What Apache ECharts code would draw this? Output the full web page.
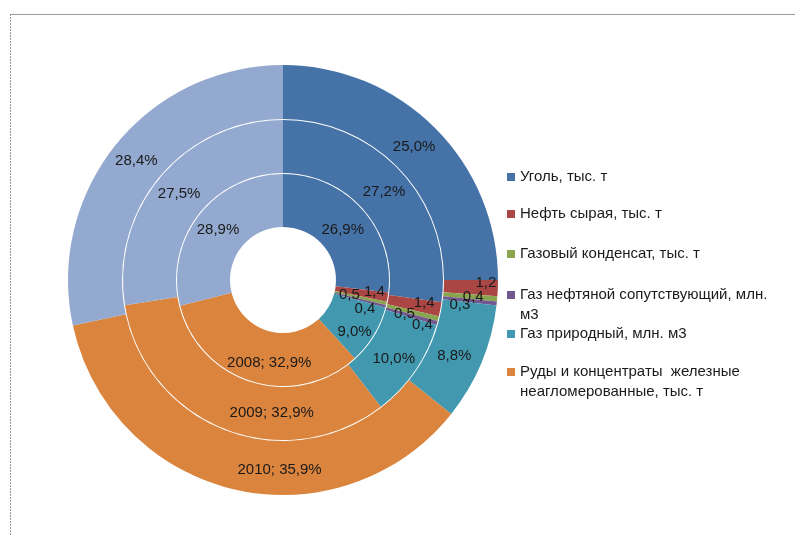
<!DOCTYPE html>
<html>
<head>
<meta charset="utf-8">
<script src="https://cdn.jsdelivr.net/npm/echarts@6/dist/echarts.min.js"></script>
<style>
  html, body { margin: 0; padding: 0; background: #fff; }
  #chart { width: 795px; height: 536px; }
</style>
</head>
<body>
<div id="chart"></div>
<script>
  // categories (последняя - без подписи в легенде)
  var categories = [
    'Уголь, тыс. т',
    'Нефть сырая, тыс. т',
    'Газовый конденсат, тыс. т',
    'Газ нефтяной сопутствующий, млн.\nм3',
    'Газ природный, млн. м3',
    'Руды и концентраты  железные\nнеагломерованные, тыс. т',
    'Прочие'
  ];
  var years = ['2008', '2009', '2010'];
  var values2008 = [26.9, 1.4, 0.5, 0.4, 9.0, 32.9, 28.9];
  var values2009 = [27.2, 1.4, 0.5, 0.4, 10.0, 32.9, 27.5];
  var values2010 = [25.0, 1.2, 0.4, 0.3, 8.8, 35.9, 28.4];
  var legendNames = categories.slice(0, 6);

  var colors = ['#4572a7', '#aa4643', '#89a54e', '#71588f', '#4198af', '#db843d', '#93a9cf'];
  var rings = [[53, 106], [107, 160], [161, 215]];
  // сдвиг подписей, как в excel
  var labelShift = [
    [[-2, 5], [10, -2], [-14, -3], [2, 8], [1, 9], [10, 4], [0, 1]],
    [[-2, 1], [7, -2], [-11, 1], [8, 8], [-2, 2], [39, 6], [0, 2]],
    [[-4, 2], [12, -4], [0, 0], [-13, 4], [-5, 2], [40, 4], [2, 1]]
  ];
  var legendCenters = [177, 214, 254, 295, 334, 372];

  function fmt(v) {
    return v.toFixed(1).replace('.', ',');
  }

  function makeSeries(idx, values) {
    return {
      name: years[idx],
      type: 'pie',
      center: [283, 280],
      radius: rings[idx],
      startAngle: 90,
      clockwise: true,
      silent: true,
      itemStyle: { borderWidth: 0 },
      labelLayout: { hideOverlap: false },
      label: {
        show: true,
        position: 'inside',
        color: '#1a1a1a',
        fontSize: 15,
        fontFamily: 'Liberation Sans',
        formatter: function (p) {
          if (p.dataIndex === 5) {
            return p.seriesName + '; ' + fmt(p.value) + '%';
          }
          if (p.value < 2) {
            return fmt(p.value);
          }
          return fmt(p.value) + '%';
        }
      },
      labelLine: { show: false },
      emphasis: { disabled: true },
      data: values.map(function (v, i) {
        return {
          name: categories[i],
          value: v,
          label: { offset: labelShift[idx][i] }
        };
      })
    };
  }

  var legends = legendNames.map(function (n, i) {
    var multi = n.indexOf('\n') >= 0;
    return {
      orient: 'vertical',
      left: 502,
      top: multi ? legendCenters[i] - 35 : legendCenters[i] - 15,
      icon: 'rect',
      itemWidth: 8,
      itemHeight: 8,
      itemGap: 0,
      selectedMode: false,
      data: [n],
      formatter: function (name) {
        return multi ? '\n' + name : name;
      },
      textStyle: {
        color: '#1a1a1a',
        fontSize: 15,
        fontFamily: 'Liberation Sans',
        lineHeight: 20
      }
    };
  });

  var chart = echarts.init(document.getElementById('chart'));
  chart.setOption({
    animation: false,
    color: colors,
    legend: legends,
    graphic: [
      {
        type: 'line',
        shape: { x1: 10, y1: 14.5, x2: 795, y2: 14.5 },
        style: { stroke: '#9a9a9a', lineWidth: 1 }
      },
      {
        type: 'line',
        shape: { x1: 10.5, y1: 14, x2: 10.5, y2: 536 },
        style: { stroke: '#9a9a9a', lineWidth: 1, lineDash: [2, 1] }
      }
    ],
    series: [
      makeSeries(0, values2008),
      makeSeries(1, values2009),
      makeSeries(2, values2010)
    ]
  });
</script>
</body>
</html>
